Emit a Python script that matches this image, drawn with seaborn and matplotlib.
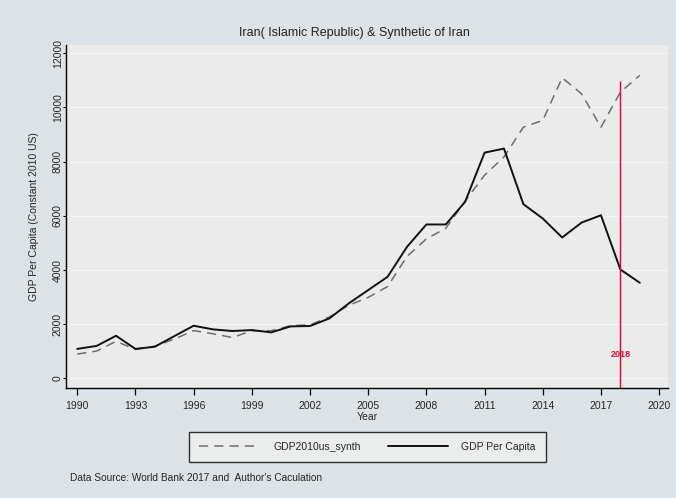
import matplotlib
matplotlib.use("Agg")
import matplotlib.pyplot as plt
import pandas as pd
import seaborn as sns

years = list(range(1990, 2020))
gdp_per_capita = [1090, 1200, 1575, 1090, 1170, 1560, 1945, 1810, 1750, 1785,
                  1700, 1920, 1935, 2215, 2770, 3260, 3750, 4855, 5680, 5680,
                  6520, 8330, 8480, 6430, 5900, 5200, 5750, 6020, 4020, 3530]
gdp_synth = [900, 1010, 1370, 1070, 1190, 1450, 1765, 1650, 1510, 1760,
             1760, 1950, 1975, 2270, 2700, 2990, 3390, 4500, 5150, 5540,
             6550, 7500, 8170, 9270, 9520, 11090, 10500, 9270, 10560, 11180]
treat_year = 2018
xticks = [1990, 1993, 1996, 1999, 2002, 2005, 2008, 2011, 2014, 2017, 2020]
yticks = [0, 2000, 4000, 6000, 8000, 10000, 12000]

df = pd.DataFrame({"year": years, "actual": gdp_per_capita, "synth": gdp_synth})

sns.set_style("white")
plt.rcParams["font.family"] = ["Liberation Sans", "DejaVu Sans"]

fig = plt.figure(figsize=(6.76, 4.98), dpi=100)
fig.patch.set_facecolor("#dce2e5")
ax = fig.add_axes([0.0976, 0.221, 0.8904, 0.6886])
ax.set_facecolor("#ebebeb")

for y in yticks:
    ax.axhline(y, color="#f5f5f5", lw=0.9, zorder=0)

sns.lineplot(data=df, x="year", y="synth", ax=ax, color="#6e6e6e", lw=1.1,
             linestyle=(0, (6, 4)), label="GDP2010us_synth")
sns.lineplot(data=df, x="year", y="actual", ax=ax, color="#111111", lw=1.4,
             label="GDP Per Capita")
ax.vlines(treat_year, -350, 10990, color="#e8001c", lw=1.0)
ax.text(treat_year, 900, str(treat_year), color="#e0103a", fontsize=6.5,
        fontweight="bold", ha="center", va="center")

ax.set_xlim(1989.42, 2020.45)
ax.set_ylim(-350, 12300)
ax.set_xticks(xticks)
ax.set_yticks(yticks)
ax.set_xticklabels([str(t) for t in xticks], fontsize=7.5)
ax.set_yticklabels([str(t) for t in yticks], fontsize=7.5, rotation=90, va="center")
ax.tick_params(axis="x", bottom=True, length=5, width=0.9, color="black",
               direction="out", pad=4.5)
ax.tick_params(axis="y", left=True, length=2, width=0.8, color="black",
               direction="out", pad=0.3)
ax.set_xlabel("Year", fontsize=7.5, labelpad=0.5)
ax.set_ylabel("GDP Per Capita (Constant 2010 US)", fontsize=7.5, labelpad=10)
for side in ["top", "right"]:
    ax.spines[side].set_visible(False)
for side in ["left", "bottom"]:
    ax.spines[side].set_color("black")
    ax.spines[side].set_linewidth(1.0)

handles, labels = ax.get_legend_handles_labels()
ax.get_legend().remove()
leg = fig.legend(handles, labels, loc="center", bbox_to_anchor=(0.5436, 0.1024),
                 ncol=2, fontsize=7.5, handlelength=5.8, handletextpad=1.3,
                 columnspacing=2.6, frameon=True, fancybox=False, borderpad=0.95)
leg.get_frame().set_edgecolor("black")
leg.get_frame().set_facecolor("#f0f0f0")
leg.get_frame().set_linewidth(1.0)

fig.text(0.525, 0.934, "Iran( Islamic Republic) & Synthetic of Iran",
         fontsize=9, ha="center", va="center", color="#222222")
fig.text(0.103, 0.040, "Data Source: World Bank 2017 and  Author's Caculation",
         fontsize=7.3, ha="left", va="center")

fig.savefig("out.png", dpi=100)
